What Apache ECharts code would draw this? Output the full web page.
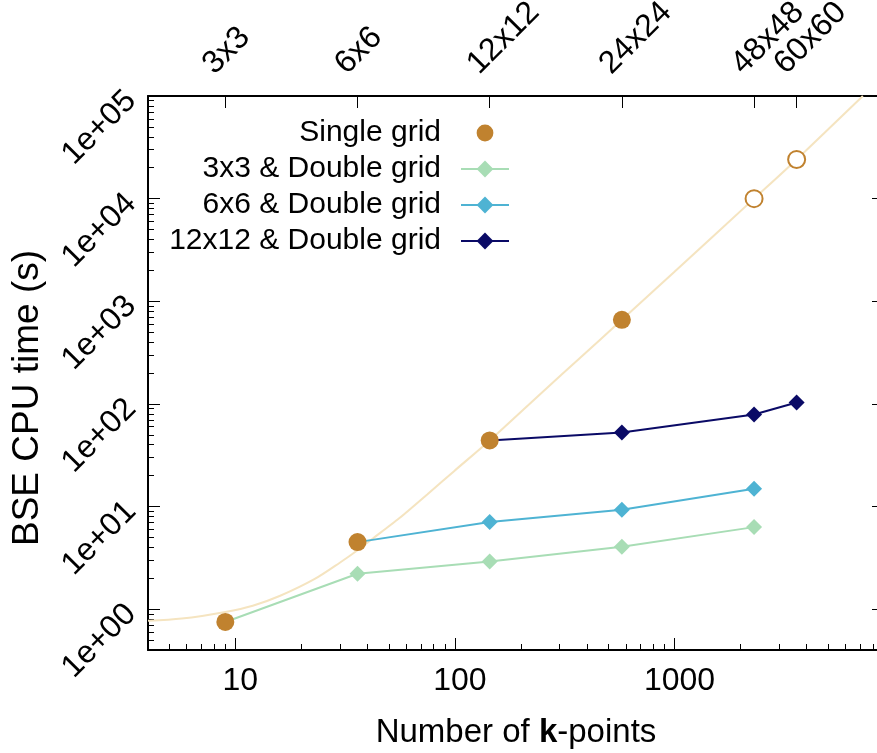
<!DOCTYPE html>
<html>
<head>
<meta charset="utf-8">
<script src="https://cdn.jsdelivr.net/npm/echarts@6/dist/echarts.min.js"></script>
<style>
  html, body { margin: 0; padding: 0; background: #ffffff; }
  #chart { width: 877px; height: 753px; }
</style>
</head>
<body>
<div id="chart"></div>
<script>
// k-point meshes and the number of k-points they contain
const gridLabels = ['3x3', '6x6', '12x12', '24x24', '48x48', '60x60'];
const gridKPoints = [9, 36, 144, 576, 2304, 3600];

// Single grid BSE CPU time (s); the two largest meshes are estimates (hollow markers)
const singleK = [9, 36, 144, 576, 2304, 3600];
const singleTime = [0.75, 4.5, 44, 660, 10000, 24100];
const singleEstimated = [false, false, false, false, true, true];

// Double grid runs, coarse mesh 3x3 / 6x6 / 12x12
const double3K = [9, 36, 144, 576, 2304];
const double3Time = [0.75, 2.21, 2.91, 4.05, 6.3];
const double6K = [36, 144, 576, 2304];
const double6Time = [4.5, 7.05, 9.3, 14.9];
const double12K = [144, 576, 2304, 3600];
const double12Time = [44, 52.6, 78.8, 103];

// Trend curve through the single grid timings
const trendK = [4, 5.7, 9, 12, 16, 23, 30, 36, 46, 55, 75, 100, 144, 250, 371, 576, 1000, 2304, 3600, 7210];
const trendTime = [0.77, 0.81, 0.94, 1.08, 1.35, 1.97, 2.85, 3.75, 5.6, 7.5, 13.2, 22.5, 44, 130, 280, 660, 1940, 10000, 24100, 100000];

// Axis ticks
const xMajorTicks = [10, 100, 1000];
const yMajorTicks = [1, 10, 100, 1000, 10000, 100000];
const yTickLabels = ['1e+00', '1e+01', '1e+02', '1e+03', '1e+04', '1e+05'];

const X_MIN = 4, X_MAX = 9000, Y_MIN = 0.4, Y_MAX = 100000;

function minorTicks(lo, hi) {
  const out = [];
  for (let d = 0.1; d <= hi; d *= 10) {
    for (let m = 2; m <= 9; m++) {
      const v = +(m * d).toPrecision(6);
      if (v > lo && v < hi) out.push(v);
    }
  }
  return out;
}
const xMinorTicks = minorTicks(X_MIN, X_MAX);
const yMinorTicks = minorTicks(Y_MIN, Y_MAX);

const FONT = "'Liberation Sans', Arial, Helvetica, sans-serif";
const C_SINGLE = '#c0822f';
const C_D3 = '#a8ddb5';
const C_D6 = '#4eb3d3';
const C_D12 = '#0a0a66';
const C_TREND = '#f5e4c0';

const pairs = (xs, ys) => xs.map((x, i) => [x, ys[i]]);

const frameLine = { show: true, onZero: false, lineStyle: { color: '#000', width: 2 } };
const noLine = { show: false };
const tickStyle = { color: '#000', width: 1 };

function logAxis(extra) {
  return Object.assign({
    type: 'log',
    logBase: 10,
    splitLine: { show: false },
    minorTick: { show: false },
    minorSplitLine: { show: false },
    axisPointer: { show: false },
    silent: true
  }, extra);
}

// Top axis naming the k-point meshes; the two closely spaced meshes sit on
// separate axes so neither label gets dropped as an overlap
function meshAxis(values, withLine) {
  return logAxis({
    min: X_MIN, max: X_MAX, position: 'top',
    axisLine: withLine ? frameLine : noLine,
    axisTick: { show: true, inside: true, length: 12, customValues: values, lineStyle: tickStyle },
    axisLabel: { show: true, customValues: values, rotate: -45, margin: 10,
      hideOverlap: false, showMinLabel: true, showMaxLabel: true,
      color: '#000', fontFamily: FONT, fontSize: 32, lineHeight: 48,
      formatter: v => (gridLabels[gridKPoints.indexOf(Math.round(v))] || '') + '\n ' }
  });
}

const xAxes = [
  logAxis({
    min: X_MIN, max: X_MAX, position: 'bottom',
    axisLine: frameLine,
    axisTick: { show: true, inside: true, length: 12, customValues: xMajorTicks, lineStyle: tickStyle },
    axisLabel: { show: true, customValues: xMajorTicks, margin: 15, padding: [0, 0, 0, 10],
      hideOverlap: false, showMinLabel: true, showMaxLabel: true,
      color: '#000', fontFamily: FONT, fontSize: 32,
      formatter: v => String(Math.round(v)) },
    name: '{n|Number of }{b|k}{n|-points}',
    nameLocation: 'middle',
    nameGap: 66,
    nameTextStyle: {
      rich: {
        n: { fontFamily: FONT, fontSize: 33, color: '#000' },
        b: { fontFamily: FONT, fontSize: 33, color: '#000', fontWeight: 'bold' }
      }
    }
  }),
  logAxis({
    min: X_MIN, max: X_MAX, position: 'bottom',
    axisLine: noLine,
    axisTick: { show: true, inside: true, length: 6, customValues: xMinorTicks, lineStyle: tickStyle },
    axisLabel: { show: false }
  }),
  meshAxis(gridKPoints.slice(0, 5), true),
  meshAxis(gridKPoints.slice(5), false)
];

const yAxes = [
  logAxis({
    min: Y_MIN, max: Y_MAX, position: 'left',
    axisLine: frameLine,
    axisTick: { show: true, inside: true, length: 12, customValues: yMajorTicks, lineStyle: tickStyle },
    axisLabel: { show: true, customValues: yMajorTicks, rotate: 45, margin: 17,
      hideOverlap: false, showMinLabel: true, showMaxLabel: true,
      color: '#000', fontFamily: FONT, fontSize: 32,
      formatter: v => yTickLabels[yMajorTicks.indexOf(Math.round(v))] || '' },
    name: 'BSE CPU time (s)',
    nameLocation: 'middle',
    nameGap: 98,
    nameTextStyle: { fontFamily: FONT, fontSize: 37, color: '#000', padding: [0, 50, 0, 0] }
  }),
  logAxis({
    min: Y_MIN, max: Y_MAX, position: 'left',
    axisLine: noLine,
    axisTick: { show: true, inside: true, length: 6, customValues: yMinorTicks, lineStyle: tickStyle },
    axisLabel: { show: false }
  }),
  logAxis({
    min: Y_MIN, max: Y_MAX, position: 'right',
    axisLine: frameLine,
    axisTick: { show: true, inside: true, length: 12, customValues: yMajorTicks, lineStyle: tickStyle },
    axisLabel: { show: false }
  }),
  logAxis({
    min: Y_MIN, max: Y_MAX, position: 'right',
    axisLine: noLine,
    axisTick: { show: true, inside: true, length: 6, customValues: yMinorTicks, lineStyle: tickStyle },
    axisLabel: { show: false }
  })
];

const doubleSeries = (name, xs, ys, color, z) => ({
  name, type: 'line', xAxisIndex: 0, yAxisIndex: 0,
  data: pairs(xs, ys),
  symbol: 'diamond', symbolSize: 16, showSymbol: true,
  lineStyle: { color, width: 2 },
  itemStyle: { color },
  emphasis: { disabled: true },
  z
});

const option = {
  animation: false,
  backgroundColor: '#ffffff',
  grid: { left: 148, top: 96, width: 736, height: 554, containLabel: false, outerBoundsMode: 'none' },
  xAxis: xAxes,
  yAxis: yAxes,
  legend: {
    data: ['Single grid', '3x3 & Double grid', '6x6 & Double grid', '12x12 & Double grid'],
    orient: 'vertical',
    align: 'right',
    right: 367,
    top: 118,
    padding: 0,
    itemWidth: 48,
    itemHeight: 21,
    itemGap: 6,
    selectedMode: false,
    textStyle: { fontFamily: FONT, fontSize: 30, color: '#000', padding: [0, 15, 0, 0] }
  },
  series: [
    {
      name: 'trend', type: 'line', xAxisIndex: 0, yAxisIndex: 0,
      data: pairs(trendK, trendTime),
      smooth: 0.3, showSymbol: false, symbol: 'none',
      lineStyle: { color: C_TREND, width: 2 },
      silent: true, z: 1
    },
    doubleSeries('3x3 & Double grid', double3K, double3Time, C_D3, 2),
    doubleSeries('6x6 & Double grid', double6K, double6Time, C_D6, 3),
    doubleSeries('12x12 & Double grid', double12K, double12Time, C_D12, 4),
    {
      name: 'Single grid', type: 'line', xAxisIndex: 0, yAxisIndex: 0,
      data: singleK.map((k, i) => singleEstimated[i]
        ? { value: [k, singleTime[i]], symbolSize: 17, itemStyle: { color: '#ffffff', borderColor: C_SINGLE, borderWidth: 2 } }
        : { value: [k, singleTime[i]] }),
      symbol: 'circle', symbolSize: 18, showSymbol: true,
      lineStyle: { opacity: 0, color: C_SINGLE },
      itemStyle: { color: C_SINGLE },
      emphasis: { disabled: true },
      z: 5
    }
  ]
};

const chart = echarts.init(document.getElementById('chart'), null, { renderer: 'canvas' });
chart.setOption(option);
</script>
</body>
</html>
